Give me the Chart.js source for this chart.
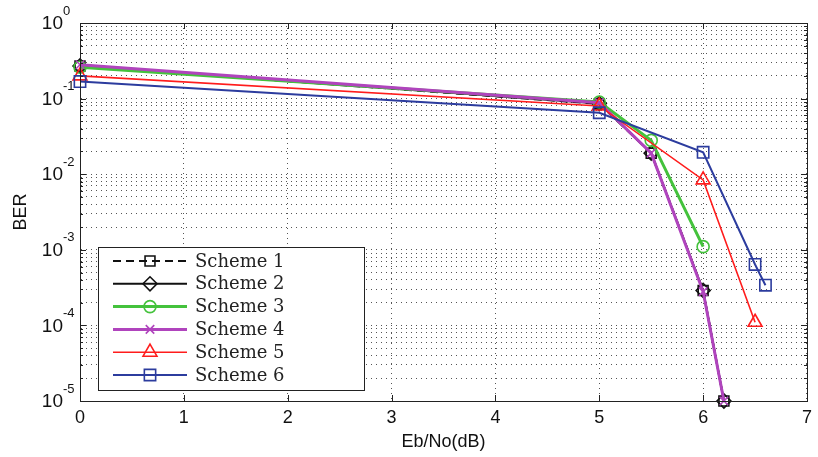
<!DOCTYPE html>
<html><head><meta charset="utf-8">
<script src="https://cdn.jsdelivr.net/npm/chart.js@4/dist/chart.umd.min.js"></script>
<style>html,body{margin:0;padding:0;background:#fff}canvas{display:block}</style>
</head><body>
<canvas id="c" width="818" height="457"></canvas>
<script>
// ---- data ----
const seriesLabels = ['Scheme 1','Scheme 2','Scheme 3','Scheme 4','Scheme 5','Scheme 6'];
const s1X = [0, 5, 5.5, 6, 6.2];  const s1Y = [0.27, 0.085, 0.019, 0.00029, 0.00001];
const s2X = [0, 5, 5.5, 6, 6.2];  const s2Y = [0.27, 0.086, 0.019, 0.00029, 0.00001];
const s3X = [0, 5, 5.5, 6];       const s3Y = [0.26, 0.09, 0.028, 0.0011];
const s4X = [0, 5, 5.5, 6, 6.2];  const s4Y = [0.28, 0.088, 0.019, 0.00028, 0.00001];
const s5X = [0, 5, 6, 6.5];       const s5Y = [0.2, 0.08, 0.0084, 0.00011];
const s6X = [0, 5, 6, 6.5, 6.6];  const s6Y = [0.168, 0.065, 0.0195, 0.00064, 0.00034];
const xTickValues = [0, 1, 2, 3, 4, 5, 6, 7];
const yDecadeExponents = [0, -1, -2, -3, -4, -5];
const xTitle = 'Eb/No(dB)';
const yTitle = 'BER';

const pairs = (xs, ys) => xs.map((x, i) => ({x, y: ys[i]}));

const styles = [
  {color:'#111111', width:2,   dash:[8,5], point:'rect',     r:7},
  {color:'#111111', width:2,   dash:[],    point:'rectRot',  r:7},
  {color:'#44c23c', width:3,   dash:[],    point:'circle',   r:6},
  {color:'#b044bd', width:3,   dash:[],    point:'crossRot', r:6},
  {color:'#ff1c1c', width:1.6, dash:[],    point:'triangle', r:8},
  {color:'#2c3c9e', width:2,   dash:[],    point:'rect',     r:8}
];
const seriesData = [pairs(s1X,s1Y), pairs(s2X,s2Y), pairs(s3X,s3Y), pairs(s4X,s4Y), pairs(s5X,s5Y), pairs(s6X,s6Y)];

const datasets = seriesData.map((d, i) => ({
  label: seriesLabels[i],
  data: d,
  order: -i,
  borderColor: styles[i].color,
  backgroundColor: 'rgba(0,0,0,0)',
  borderWidth: styles[i].width,
  borderDash: styles[i].dash,
  pointStyle: styles[i].point,
  pointRadius: styles[i].r,
  pointBorderWidth: 1.6,
  pointBorderColor: styles[i].color,
  pointBackgroundColor: 'rgba(0,0,0,0)',
  tension: 0,
  clip: false
}));

const matlabPlugin = {
  id: 'matlab',
  afterDraw(chart) {
    const {ctx, chartArea: a, scales} = chart;
    const xs = scales.x, ys = scales.y;
    ctx.save();
    // frame
    ctx.strokeStyle = '#222'; ctx.lineWidth = 1; ctx.setLineDash([]);
    ctx.strokeRect(Math.round(a.left)+0.5, Math.round(a.top)+0.5, Math.round(a.right-a.left), Math.round(a.bottom-a.top));
    // inner ticks x
    ctx.beginPath();
    xTickValues.forEach(v => {
      const px = Math.round(xs.getPixelForValue(v)) + 0.5;
      ctx.moveTo(px, a.bottom); ctx.lineTo(px, a.bottom - 6);
      ctx.moveTo(px, a.top); ctx.lineTo(px, a.top + 6);
    });
    // inner ticks y
    yDecadeExponents.forEach(e => {
      for (let m = 1; m <= 9; m++) {
        const v = m * Math.pow(10, e);
        if (v > 1.0000001 || v < 0.0000099) continue;
        const py = Math.round(ys.getPixelForValue(v)) + 0.5;
        const len = m === 1 ? 6 : 3;
        ctx.moveTo(a.left, py); ctx.lineTo(a.left + len, py);
        ctx.moveTo(a.right, py); ctx.lineTo(a.right - len, py);
      }
    });
    ctx.stroke();
    // y tick labels 10^e
    ctx.fillStyle = '#111';
    yDecadeExponents.forEach(e => {
      const py = ys.getPixelForValue(Math.pow(10, e));
      ctx.font = '19px "Liberation Sans", Arial, sans-serif';
      ctx.textAlign = 'right'; ctx.textBaseline = 'middle';
      ctx.fillText('10', 63, py + 1);
      ctx.font = '13px "Liberation Sans", Arial, sans-serif';
      ctx.textAlign = 'left';
      ctx.fillText(String(e), 63, py - 12);
    });
    // legend
    const L = 98, T = 247, R = 364, B = 390;
    ctx.fillStyle = '#fff';
    ctx.fillRect(L, T, R - L, B - T);
    ctx.strokeStyle = '#222'; ctx.lineWidth = 1;
    ctx.strokeRect(L + 0.5, T + 0.5, R - L, B - T);
    chart.data.datasets.forEach((ds, i) => {
      const y = 261 + i * 22.8;
      ctx.save();
      ctx.strokeStyle = ds.borderColor; ctx.lineWidth = ds.borderWidth;
      ctx.setLineDash(ds.borderDash || []);
      ctx.beginPath(); ctx.moveTo(113, y); ctx.lineTo(187, y); ctx.stroke();
      ctx.setLineDash([]);
      ctx.lineWidth = ds.pointBorderWidth;
      ctx.fillStyle = 'rgba(0,0,0,0)';
      Chart.helpers.drawPoint(ctx, {pointStyle: ds.pointStyle, radius: ds.pointRadius, rotation: 0, borderWidth: ds.pointBorderWidth}, 150, y);
      ctx.restore();
      ctx.fillStyle = '#222';
      ctx.font = '18px "DejaVu Serif", serif';
      ctx.textAlign = 'left'; ctx.textBaseline = 'middle';
      ctx.fillText(ds.label, 195, y + 1);
    });
    ctx.restore();
  }
};

const yTickList = [];
yDecadeExponents.slice().reverse().forEach(e => {
  for (let m = 1; m <= 9; m++) {
    const v = Number((m * Math.pow(10, e)).toPrecision(3));
    if (v <= 1 && v >= 1e-5) yTickList.push(v);
  }
});

new Chart(document.getElementById('c'), {
  type: 'line',
  data: { datasets },
  options: {
    responsive: false,
    animation: false,
    devicePixelRatio: 1,
    layout: { padding: { left: 0, right: 6, top: 23, bottom: 0 } },
    plugins: { legend: { display: false }, tooltip: { enabled: false } },
    scales: {
      x: {
        type: 'linear', min: 0, max: 7,
        afterBuildTicks: s => { s.ticks = xTickValues.map(v => ({value: v})); },
        afterFit: s => { s.height = 56; },
        ticks: { color: '#111', font: { family: '"Liberation Sans", Arial, sans-serif', size: 18 }, padding: 6, maxRotation: 0 },
        grid: { color: '#555', lineWidth: 1, drawTicks: false },
        border: { display: true, color: '#222', width: 1, dash: [1, 4] },
        title: { display: true, text: xTitle, color: '#111', font: { family: '"Liberation Sans", Arial, sans-serif', size: 18 }, padding: { top: 0, bottom: 4 } }
      },
      y: {
        type: 'logarithmic', min: 1e-5, max: 1,
        afterBuildTicks: s => { s.ticks = yTickList.map(v => ({value: v})); },
        afterFit: s => { s.width = 80; },
        ticks: { display: false },
        grid: { color: '#555', lineWidth: 1, drawTicks: false },
        border: { display: true, color: '#222', width: 1, dash: [1, 4] },
        title: { display: true, text: yTitle, color: '#111', font: { family: '"Liberation Sans", Arial, sans-serif', size: 18 }, padding: { top: 10, bottom: 0 } }
      }
    }
  },
  plugins: [matlabPlugin]
});
</script>
</body></html>
